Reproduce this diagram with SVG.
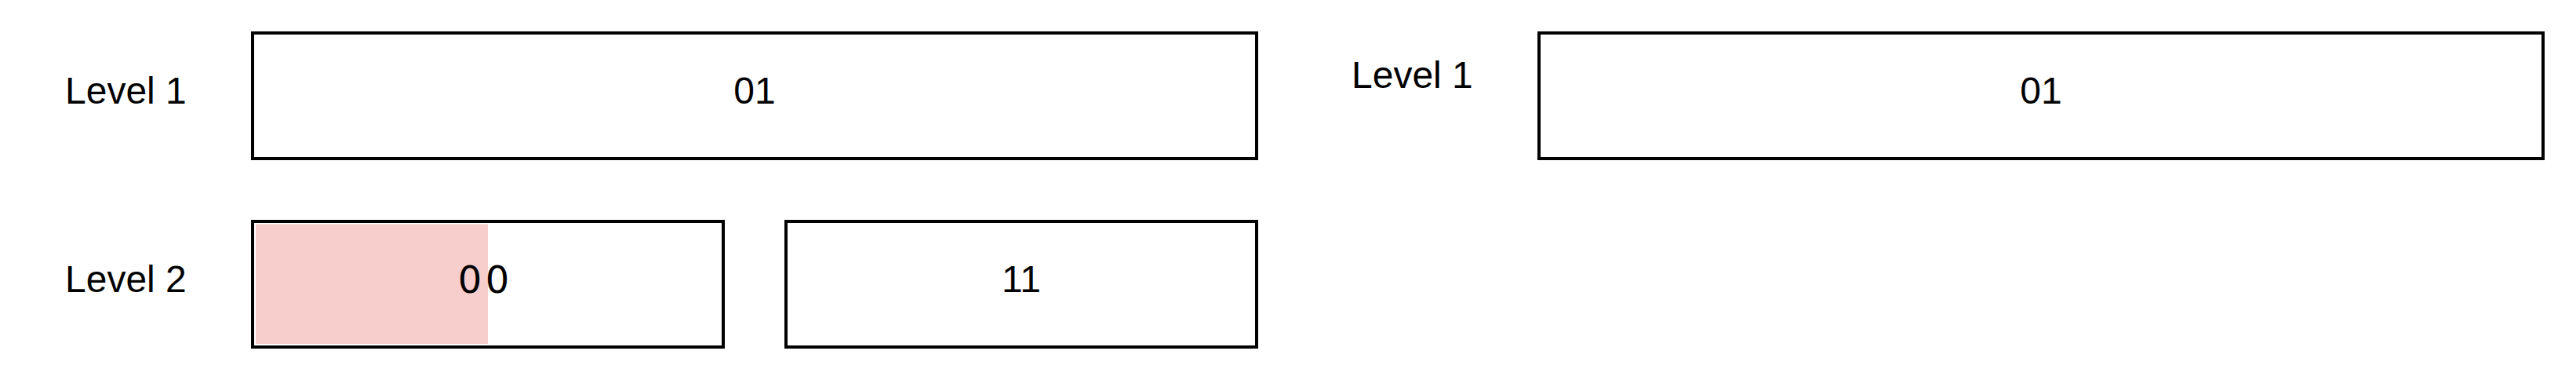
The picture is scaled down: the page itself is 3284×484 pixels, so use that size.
<svg xmlns="http://www.w3.org/2000/svg" width="3284" height="484" viewBox="0 0 3284 484">
<style>
.box{fill:#ffffff;stroke:#000000;stroke-width:4}
.lbl{font-family:"Liberation Sans",Arial,sans-serif;font-size:48px;fill:#000000}
.mid{text-anchor:middle}
.dv{font-family:"DejaVu Sans",sans-serif;font-size:48px;fill:#000000}
</style>
<rect x="0" y="0" width="3284" height="484" fill="#ffffff"/>
<g id="label-level1-left"><text class="lbl" x="83" y="132">Level 1</text></g>
<g id="label-level2-left"><text class="lbl" x="83" y="372">Level 2</text></g>
<g id="label-level1-right"><text class="lbl" x="1723" y="112">Level 1</text></g>
<g id="node-l1-left">
<rect class="box" x="322" y="42" width="1280" height="160"/>
<text class="lbl mid" x="962" y="132">01</text>
</g>
<g id="node-l2-00">
<rect class="box" x="322" y="282" width="600" height="160"/>
<rect x="326" y="285.5" width="296" height="152.5" fill="#f8cecc"/>
<text class="dv" x="583.8" y="373" letter-spacing="-5.4">0 0</text>
</g>
<g id="node-l2-11">
<rect class="box" x="1002" y="282" width="600" height="160"/>
<text class="lbl mid" x="1302" y="372">11</text>
</g>
<g id="node-l1-right">
<rect class="box" x="1962" y="42" width="1280" height="160"/>
<text class="lbl mid" x="2602" y="132">01</text>
</g>
<g id="connectors"></g>
</svg>
